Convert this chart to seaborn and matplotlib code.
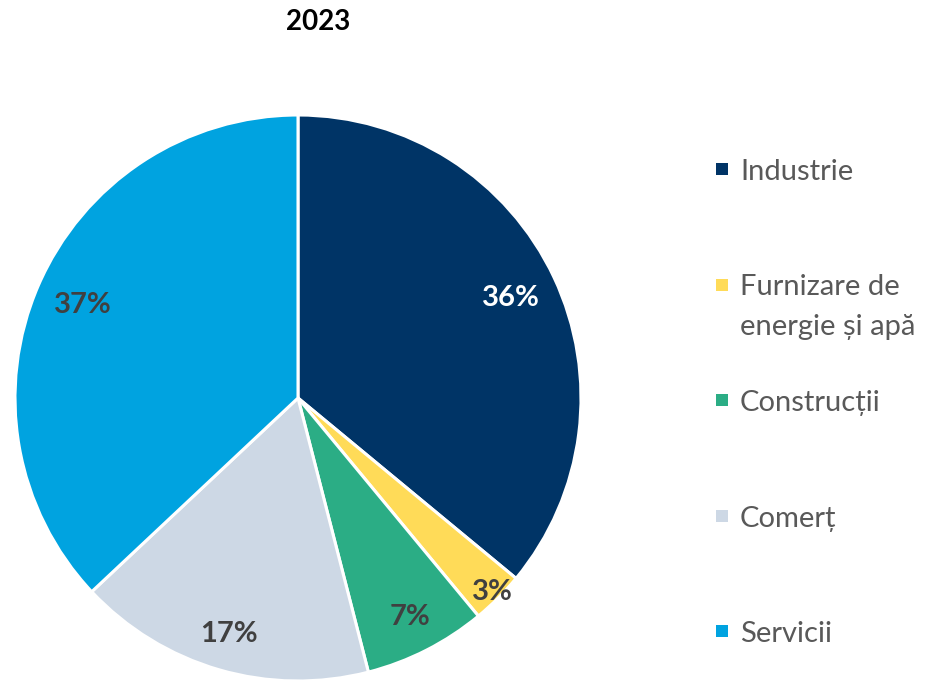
import matplotlib.pyplot as plt
import numpy as np
import seaborn as sns
from matplotlib.patches import Rectangle

# Data
categories = ["Industrie", "Furnizare de\nenergie și apă", "Construcții", "Comerț", "Servicii"]
shares = [36, 3, 7, 17, 37]
colors = ["#003466", "#FFDB58", "#2BAD85", "#CDD8E5", "#00A3E0"]
pct_colors = ["white", "#404040", "#404040", "#404040", "#404040"]
label_dist = [0.83, 0.97, 0.87, 0.87, 0.83]
title = "2023"

sns.set_theme(style="white")
plt.rcParams["font.family"] = ["Lato", "DejaVu Sans"]

W, H = 928, 681
fig = plt.figure(figsize=(W / 100, H / 100), dpi=100)
ax = fig.add_axes([15 / W, 0 / H, 566 / W, 566 / H])

palette = sns.color_palette(colors)
wedges, _ = ax.pie(
    shares,
    colors=palette,
    startangle=90,
    counterclock=False,
    radius=1,
    wedgeprops=dict(edgecolor="white", linewidth=2.2),
)

# percentage labels
for w, val, col, d in zip(wedges, shares, pct_colors, label_dist):
    ang = np.deg2rad((w.theta1 + w.theta2) / 2)
    ax.text(d * np.cos(ang), d * np.sin(ang), f"{val}%", ha="center", va="center",
            fontsize=21, fontweight="bold", color=col)

ax.set_xlim(-1, 1)
ax.set_ylim(-1, 1)
ax.set_aspect("equal")
ax.axis("off")

fig.text(318 / W, 1 - 22 / H, title, ha="center", va="center",
         fontsize=20, fontweight="bold", color="black")

# legend: entries on an even step, marker next to first text line
step = 115.5
line_h = 40
for i, (lab, w) in enumerate(zip(categories, wedges)):
    base = 180 + i * step
    fig.add_artist(Rectangle(((716) / W, 1 - (base - 5) / H), 12 / W, 12 / H,
                             transform=fig.transFigure, facecolor=w.get_facecolor(),
                             edgecolor="none"))
    for j, line in enumerate(lab.split("\n")):
        fig.text(740 / W, 1 - (base + j * line_h) / H, line, ha="left", va="baseline",
                 fontsize=21, color="#595959")

fig.savefig("out.png", dpi=100)
